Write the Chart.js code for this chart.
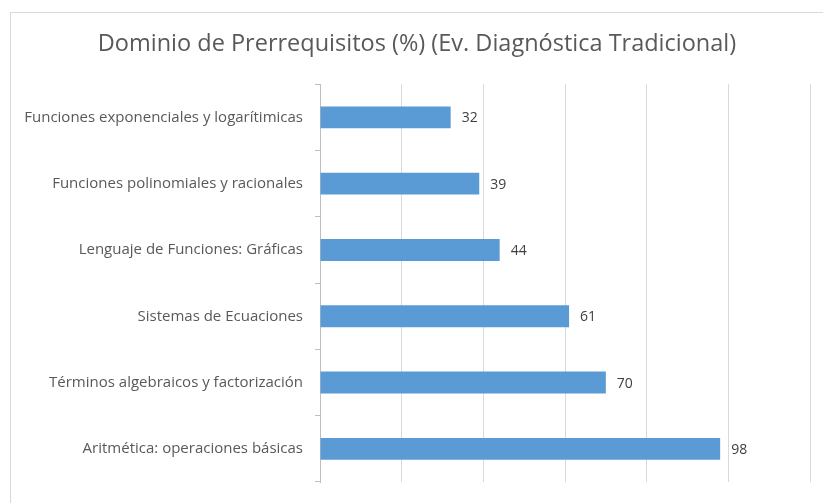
<!DOCTYPE html>
<html>
<head>
<meta charset="utf-8">
<script src="https://cdn.jsdelivr.net/npm/chart.js@4/dist/chart.umd.min.js"></script>
<style>
html,body{margin:0;padding:0;background:#fff;overflow:hidden;}
canvas{display:block;}
</style>
</head>
<body>
<canvas id="c" width="823" height="503"></canvas>
<script>
const titleText = 'Dominio de Prerrequisitos (%) (Ev. Diagnóstica Tradicional)';
const categories = [
  'Funciones exponenciales y logarítimicas',
  'Funciones polinomiales y racionales',
  'Lenguaje de Funciones: Gráficas',
  'Sistemas de Ecuaciones',
  'Términos algebraicos y factorización',
  'Aritmética: operaciones básicas'
];
const values = [32, 39, 44, 61, 70, 98];
const axisMin = 0;
const axisMax = 120;
const axisStep = 20;

const frame = {
  id: 'frame',
  beforeDraw(chart) {
    const ctx = chart.ctx;
    ctx.save();
    ctx.fillStyle = '#ffffff';
    ctx.fillRect(0, 0, chart.width, chart.height);
    ctx.strokeStyle = '#d9d9d9';
    ctx.lineWidth = 1;
    ctx.strokeRect(10.5, 12.5, 900, 600);
    ctx.restore();
  }
};

const valueLabels = {
  id: 'valueLabels',
  afterDatasetsDraw(chart) {
    const ctx = chart.ctx;
    const meta = chart.getDatasetMeta(0);
    ctx.save();
    ctx.font = '14px "Open Sans"';
    ctx.fillStyle = '#404040';
    ctx.textAlign = 'left';
    ctx.textBaseline = 'middle';
    meta.data.forEach((bar, i) => {
      ctx.fillText(String(values[i]), bar.x + 11, bar.y + 1);
    });
    ctx.restore();
  }
};

new Chart(document.getElementById('c'), {
  type: 'bar',
  data: {
    labels: categories,
    datasets: [{
      data: values,
      backgroundColor: '#5b9bd5',
      borderWidth: 0,
      barPercentage: 0.33,
      categoryPercentage: 1
    }]
  },
  options: {
    indexAxis: 'y',
    responsive: false,
    devicePixelRatio: 1,
    animation: false,
    layout: { autoPadding: false, padding: { left: 24, right: 13, top: 0, bottom: 15 } },
    plugins: {
      legend: { display: false },
      tooltip: { enabled: false },
      title: {
        display: true,
        text: titleText,
        color: '#595959',
        font: { family: '"Open Sans"', size: 23.5, weight: 'normal' },
        padding: { top: 30, bottom: 26 }
      }
    },
    scales: {
      x: {
        min: axisMin,
        max: axisMax,
        afterFit(scale) { scale.height = 0; },
        ticks: { display: false, stepSize: axisStep },
        grid: { color: '#d9d9d9', drawTicks: false, lineWidth: 1 },
        border: { display: false }
      },
      y: {
        afterFit(scale) { scale.width = 296; },
        ticks: {
          color: '#595959',
          font: { family: '"Open Sans"', size: 15 },
          padding: 12
        },
        grid: { offset: true, drawOnChartArea: false, tickLength: 5, color: '#bfbfbf' },
        border: { display: true, color: '#bfbfbf' }
      }
    }
  },
  plugins: [frame, valueLabels]
});
</script>
</body>
</html>
